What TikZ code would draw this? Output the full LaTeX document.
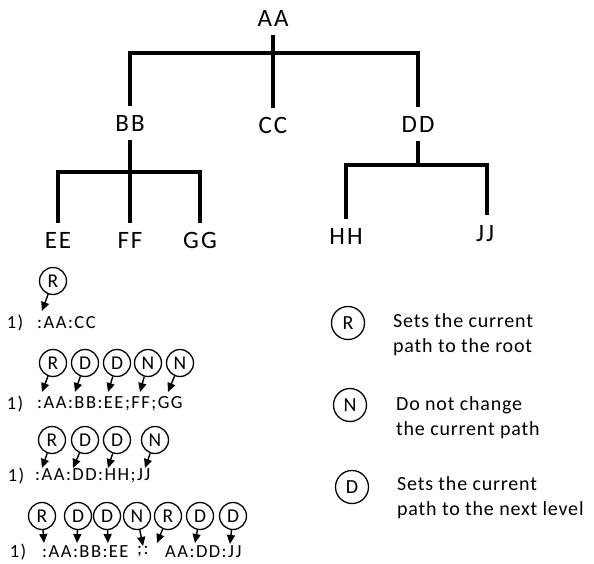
\documentclass[tikz,border=0pt]{standalone}
\usepackage{fontspec}
\setmainfont{Carlito}[LetterSpace=8]
\newfontfamily\legfont{Carlito}[LetterSpace=4]
\usetikzlibrary{arrows.meta}
\begin{document}
\begin{tikzpicture}[x=1pt,y=-1pt,
  tree/.style={line width=3.6pt},
  lbl/.style={inner sep=0pt,outer sep=9pt,font=\fontsize{25}{30}\selectfont},
  rc/.style={circle,draw,line width=1.3pt,minimum size=27pt,inner sep=0pt,font=\fontsize{19.5}{20}\selectfont},
  lc/.style={circle,draw,line width=1.3pt,minimum size=33pt,inner sep=0pt,font=\fontsize{20}{20}\selectfont},
  arr/.style={line width=1.4pt,-{Triangle[length=9pt,width=8pt]}},
  rowtxt/.style={inner sep=0pt,anchor=west,font=\fontsize{18.5}{20}\selectfont},
  num/.style={inner sep=0pt,font=\fontsize{18.5}{20}\selectfont},
  legtxt/.style={inner sep=0pt,anchor=west,align=left,font=\legfont\fontsize{20}{25}\selectfont}]
\useasboundingbox (0,0) rectangle (594,564);
% tree
\node[lbl] (AA) at (273,18) {AA};
\node[lbl] (BB) at (130,123) {BB};
\node[lbl] (CC) at (273,125) {CC};
\node[lbl] (DD) at (418,124) {DD};
\node[lbl] (EE) at (58,240) {EE};
\node[lbl] (FF) at (130,240) {FF};
\node[lbl] (GG) at (200,240) {GG};
\node[lbl] (HH) at (346,236) {HH};
\node[lbl] (JJ) at (485,234) {JJ};
\coordinate (j1) at (273,53);
\coordinate (j2) at (130,172);
\coordinate (j3) at (418,165);
\draw[tree] (AA) -- (CC);
\draw[tree] (BB) |- (j1) -| (DD);
\draw[tree] (BB) -- (FF);
\draw[tree] (EE) |- (j2) -| (GG);
\draw[tree] (DD) -- (j3);
\draw[tree] (HH) |- (j3) -| (487,215) coordinate (jj);
% row 1
\node[rc] (c1a) at (53,281) {R};
\coordinate (t1a) at (42,311);
\draw[arr] (c1a) -- (t1a);
\node[num] (n1) at (15,323) {1)};
\node[rowtxt] (s1) at (37,323) {:AA:CC};
% row 2
\node[rc] (c2a) at (53,363) {R};
\node[rc] (c2b) at (85,363) {D};
\node[rc] (c2c) at (117,363) {D};
\node[rc] (c2d) at (148,363) {N};
\node[rc] (c2e) at (180,363) {N};
\coordinate (t2a) at (42,392);
\coordinate (t2b) at (75,392);
\coordinate (t2c) at (108,392);
\coordinate (t2d) at (140,392);
\coordinate (t2e) at (168,392);
\foreach \i in {a,b,c,d,e} \draw[arr] (c2\i) -- (t2\i);
\node[num] (n2) at (15,404) {1)};
\node[rowtxt] (s2) at (37,404) {:AA:BB:EE;FF;GG};
% row 3
\node[rc] (c3a) at (52,440) {R};
\node[rc] (c3b) at (85,440) {D};
\node[rc] (c3c) at (117,440) {D};
\node[rc] (c3d) at (155,440) {N};
\coordinate (t3a) at (42,468);
\coordinate (t3b) at (73,468);
\coordinate (t3c) at (108,468);
\coordinate (t3d) at (145,468);
\foreach \i in {a,b,c,d} \draw[arr] (c3\i) -- (t3\i);
\node[num] (n3) at (16,476) {1)};
\node[rowtxt] (s3) at (35,476) {:AA:DD:HH;JJ};
% row 4
\node[rc] (c4a) at (42,516) {R};
\node[rc] (c4b) at (78,516) {D};
\node[rc] (c4c) at (107,516) {D};
\node[rc] (c4d) at (137,516) {N};
\node[rc] (c4e) at (168,516) {R};
\node[rc] (c4f) at (200,516) {D};
\node[rc] (c4g) at (233,516) {D};
\coordinate (t4a) at (44,543);
\coordinate (t4b) at (77,543);
\coordinate (t4c) at (108,543);
\coordinate (t4d) at (143,546);
\coordinate (t4e) at (157,543);
\coordinate (t4f) at (195,543);
\coordinate (t4g) at (230,544);
\foreach \i in {a,b,c,d,e,f,g} \draw[arr] (c4\i) -- (t4\i);
\node[num] (n4) at (18,552) {1)};
\node[rowtxt] (s4a) at (42,552) {:AA:BB:EE};
\node[rowtxt] (s4b) at (137,552) {;:};
\node[rowtxt] (s4c) at (165,552) {AA:DD:JJ};
% legend
\node[lc] (lr) at (348,323) {R};
\node[legtxt] (lrt) at (393,335) {Sets the current\\path to the root};
\node[lc] (ln) at (350,405) {N};
\node[legtxt] (lnt) at (396,418) {Do not change\\the current path};
\node[lc] (ld) at (352,487) {D};
\node[legtxt] (ldt) at (397,498) {Sets the current\\path to the next level};
\end{tikzpicture}
\end{document}
